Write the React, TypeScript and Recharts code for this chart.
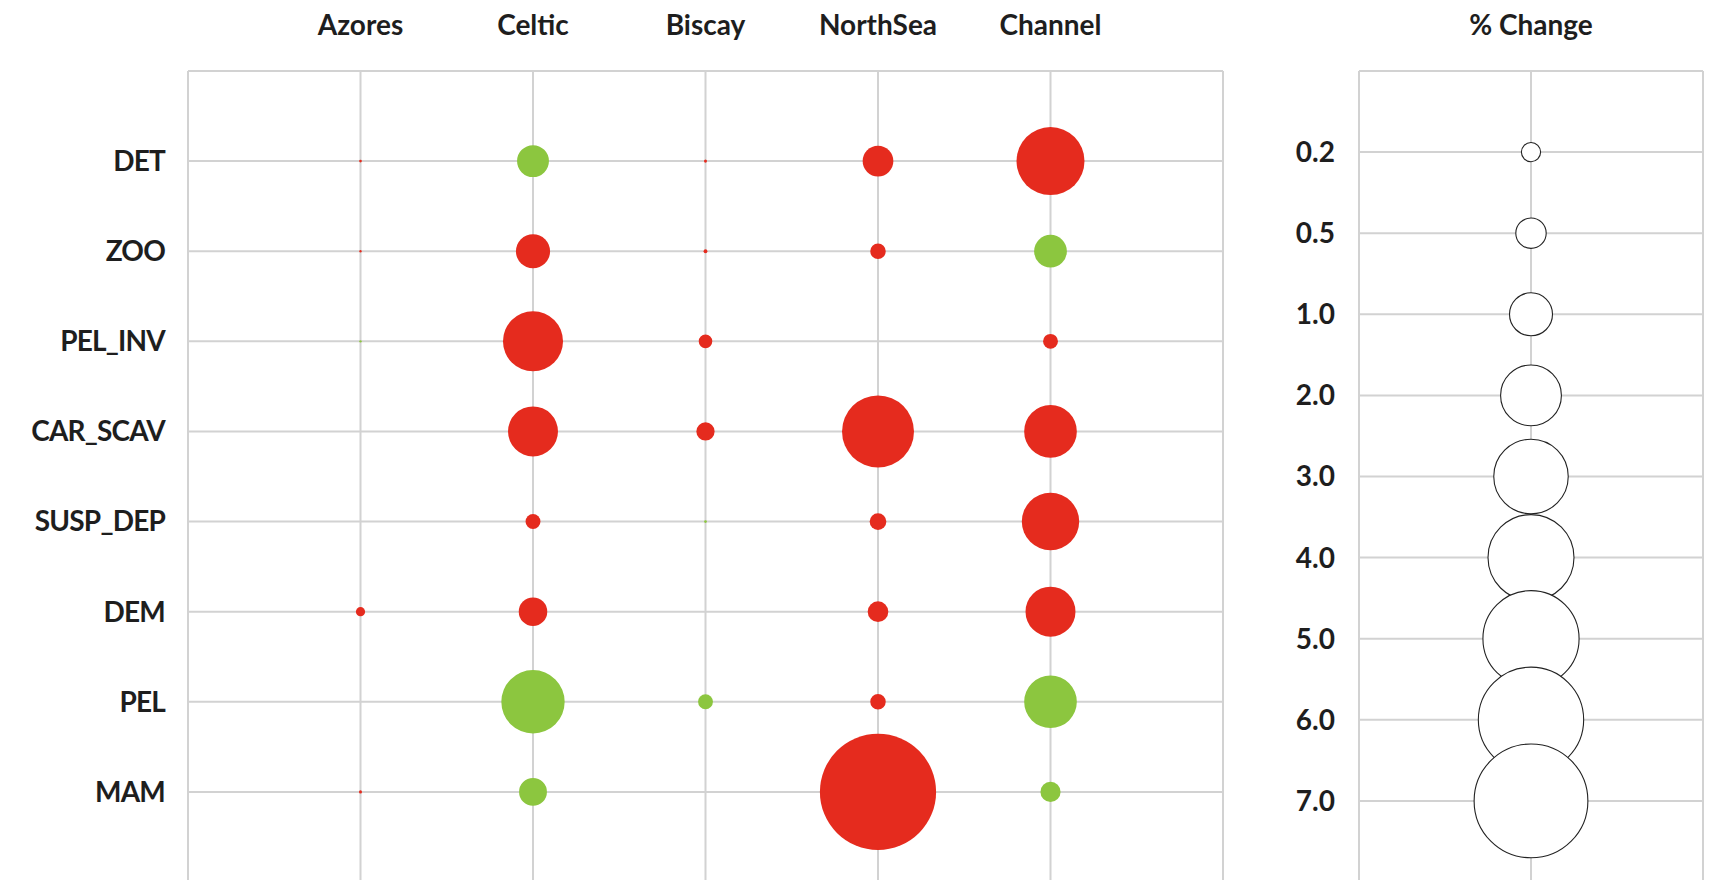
import { ScatterChart, Scatter, XAxis, YAxis, ZAxis, CartesianGrid } from 'recharts';

const regions = ['Azores', 'Celtic', 'Biscay', 'NorthSea', 'Channel'];
const groups = ['DET', 'ZOO', 'PEL_INV', 'CAR_SCAV', 'SUSP_DEP', 'DEM', 'PEL', 'MAM'];

// % change per functional group (same order as groups); negative = decline (red), positive = gain (green)
const azores = [-0.004, -0.003, 0.003, 0, 0, -0.046, 0, -0.005];
const celtic = [0.55, -0.63, -1.95, -1.35, -0.12, -0.44, 2.17, 0.42];
const biscay = [-0.005, -0.008, -0.1, -0.18, 0.004, 0, 0.12, 0];
const northSea = [-0.51, -0.13, 0, -2.8, -0.15, -0.23, -0.13, -7.3];
const channel = [-2.5, 0.58, -0.12, -1.5, -1.78, -1.35, 1.5, 0.22];

// bubble-size key
const legendValues = [0.2, 0.5, 1, 2, 3, 4, 5, 6, 7];
const legendLabels = ['0.2', '0.5', '1.0', '2.0', '3.0', '4.0', '5.0', '6.0', '7.0'];

const RED = '#E52B1E';
const GREEN = '#8CC63F';
const GRID = '#d2d2d2';
// bubble area per 1 % change (r = 21.5px at 1.0)
const AREA_PER_UNIT = Math.PI * 21.5 * 21.5;

const FONT = 'Lato, "Open Sans", sans-serif';
const tickStyle = { fontSize: 28, fontWeight: 700, fontFamily: FONT, fill: '#1e1e1e' };
const groupTickStyle = { ...tickStyle, letterSpacing: -0.8 };

const columns = [azores, celtic, biscay, northSea, channel];
const points = columns.flatMap((vals, ci) =>
  vals.map((v, gi) => ({ x: ci + 1, y: gi + 1, z: Math.abs(v), v }))
).filter(p => p.z > 0);
const declines = points.filter(p => p.v < 0);
const gains = points.filter(p => p.v > 0);

const legendPoints = legendValues.map((v, i) => ({ x: 1, y: i + 1, z: v }));

const range = (n: number) => Array.from({ length: n + 1 }, (_, i) => i);

export default function App() {
  return (
    <div style={{ position: 'absolute', left: 0, top: 0, width: 1712, height: 880, overflow: 'hidden', background: '#fff' }}>
      <div style={{ position: 'absolute', left: 0, top: 0 }}>
        <ScatterChart width={1240} height={882} margin={{ top: 0, right: 17, bottom: 0, left: 0 }}>
          <CartesianGrid stroke={GRID} strokeWidth={2} />
          <XAxis
            type="number"
            dataKey="x"
            orientation="top"
            domain={[0, 6]}
            ticks={range(6)}
            interval={0}
            tickFormatter={(v: number) => regions[v - 1] ?? ''}
            height={71}
            axisLine={false}
            tickLine={false}
            tickSize={0}
            tickMargin={36}
            tick={tickStyle}
          />
          <YAxis
            type="number"
            dataKey="y"
            domain={[0, 9]}
            reversed
            ticks={range(9)}
            interval={0}
            tickFormatter={(v: number) => groups[v - 1] ?? ''}
            width={188}
            axisLine={false}
            tickLine={false}
            tickSize={0}
            tickMargin={23}
            tick={groupTickStyle}
          />
          <ZAxis type="number" dataKey="z" domain={[0, 10]} range={[0, 10 * AREA_PER_UNIT]} />
          <Scatter data={declines} fill={RED} isAnimationActive={false} />
          <Scatter data={gains} fill={GREEN} isAnimationActive={false} />
        </ScatterChart>
      </div>
      <div style={{ position: 'absolute', left: 1240, top: 0 }}>
        <ScatterChart width={472} height={882} margin={{ top: 0, right: 9, bottom: 0, left: 0 }}>
          <CartesianGrid stroke={GRID} strokeWidth={2} />
          <XAxis
            type="number"
            dataKey="x"
            orientation="top"
            domain={[0, 2]}
            ticks={range(2)}
            interval={0}
            tickFormatter={(v: number) => (v === 1 ? '% Change' : '')}
            height={71}
            axisLine={false}
            tickLine={false}
            tickSize={0}
            tickMargin={36}
            tick={tickStyle}
          />
          <YAxis
            type="number"
            dataKey="y"
            domain={[0, 10]}
            reversed
            ticks={range(10)}
            interval={0}
            tickFormatter={(v: number) => legendLabels[v - 1] ?? ''}
            width={119}
            axisLine={false}
            tickLine={false}
            tickSize={0}
            tickMargin={24}
            tick={tickStyle}
          />
          <ZAxis type="number" dataKey="z" domain={[0, 10]} range={[0, 10 * AREA_PER_UNIT]} />
          <Scatter data={legendPoints} fill="#fff" stroke="#222" strokeWidth={1.1} isAnimationActive={false} />
        </ScatterChart>
      </div>
    </div>
  );
}
